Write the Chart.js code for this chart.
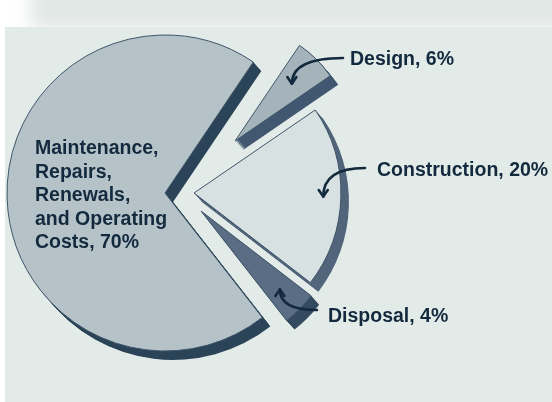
<!DOCTYPE html>
<html><head><meta charset="utf-8">
<script src="https://cdn.jsdelivr.net/npm/chart.js@4.4.1/dist/chart.umd.min.js"></script>
<style>
html,body{margin:0;padding:0;background:#fff;width:552px;height:402px;overflow:hidden;position:relative}
#strip{position:absolute;left:30px;top:-14px;width:570px;height:44px;background:#e2e8e6;filter:blur(9px)}
#panel{position:absolute;left:5px;top:27px;width:547px;height:375px;background:#e3ebe8}
canvas{display:block}
</style></head><body>
<div id="strip"></div>
<div id="panel"><canvas id="c" width="547" height="375"></canvas></div>
<script>
// ---- data ----
const CATEGORIES = ['Maintenance, Repairs, Renewals, and Operating Costs', 'Design', 'Construction', 'Disposal'];
const CATEGORY_LINES = [['Maintenance,', 'Repairs,', 'Renewals,', 'and Operating', 'Costs'], ['Design'], ['Construction'], ['Disposal']];
const VALUES = [70, 6, 20, 4];

// ---- style ----
const FACE = ['#b5c3c9', '#a5b3bb', '#d7e1e2', '#5b6d84'];
const DEPTH_COL = ['#2c4458', '#425771', '#52657b', '#344a5f'];
const SHIFT = [[0, 0], [70, -52], [29, 0], [36, 18]];      // explosion of each slice (px)
const SCALE = [1, 0.73, 0.93, 0.88];                        // radius factor per slice
const DEPTH = {x: 8, y: 9, steps: 12};
const TEXT_COL = '#13293d';
const FONT = 'bold 19.5px "Liberation Sans", Arial, sans-serif';
const LABEL_POS = [{x: 30, y: 127, lh: 23.5}, {x: 345, y: 38}, {x: 372, y: 149}, {x: 323, y: 295}];
const ARROW = [null, {sx: 338, sy: 31, f: 0.7, ky: 0}, {sx: 360, sy: 141, f: 0.88, ky: 0}, {sx: 312, sy: 283, f: 0.8, ky: 0}];

function apexOf(a, i) { return {x: a.x + SHIFT[i][0], y: a.y + SHIFT[i][1], r: a.outerRadius * SCALE[i]}; }

const pieFx = {
  id: 'pieFx',
  beforeDatasetDraw(chart, args) {
    const ctx = chart.ctx;
    const arcs = args.meta.data;
    arcs.forEach((a, i) => {
      const p = apexOf(a, i);
      ctx.save();
      ctx.fillStyle = DEPTH_COL[i];
      for (let k = DEPTH.steps; k >= 1; k--) {
        const t = k / DEPTH.steps;
        const cx = p.x + DEPTH.x * t, cy = p.y + DEPTH.y * t;
        ctx.beginPath();
        ctx.moveTo(cx, cy);
        ctx.arc(cx, cy, p.r, a.startAngle, a.endAngle);
        ctx.closePath();
        ctx.fill();
      }
      ctx.restore();
      ctx.save();
      ctx.translate(SHIFT[i][0], SHIFT[i][1]);
      const r0 = a.outerRadius;
      a.outerRadius = p.r;
      a.draw(ctx);
      a.outerRadius = r0;
      ctx.restore();
    });
    return false;
  },
  afterDatasetsDraw(chart) {
    const ctx = chart.ctx;
    const arcs = chart.getDatasetMeta(0).data;
    ctx.save();
    ctx.fillStyle = TEXT_COL;
    ctx.strokeStyle = TEXT_COL;
    ctx.font = FONT;
    ctx.textBaseline = 'alphabetic';
    ctx.textAlign = 'left';
    CATEGORY_LINES.forEach((lines, i) => {
      const lp = LABEL_POS[i];
      lines.forEach((ln, j) => {
        const txt = j === lines.length - 1 ? ln + ', ' + VALUES[i] + '%' : ln;
        ctx.fillText(txt, lp.x, lp.y + j * (lp.lh || 0));
      });
      const ar = ARROW[i];
      if (!ar) return;
      const a = arcs[i];
      const p = apexOf(a, i);
      const mid = (a.startAngle + a.endAngle) / 2;
      const tx = p.x + Math.cos(mid) * p.r * ar.f;
      const ty = p.y + Math.sin(mid) * p.r * ar.f;
      const kx = tx, ky = ar.sy + ar.ky;
      ctx.lineWidth = 2.6;
      ctx.lineCap = 'round';
      ctx.lineJoin = 'round';
      ctx.beginPath();
      ctx.moveTo(ar.sx, ar.sy);
      ctx.quadraticCurveTo(kx, ky, tx, ty);
      ctx.stroke();
      const ang = Math.atan2(ty - ky, tx - kx);
      const hl = 8;
      ctx.beginPath();
      ctx.moveTo(tx + Math.cos(ang + Math.PI - 0.6) * hl, ty + Math.sin(ang + Math.PI - 0.6) * hl);
      ctx.lineTo(tx, ty);
      ctx.lineTo(tx + Math.cos(ang + Math.PI + 0.6) * hl, ty + Math.sin(ang + Math.PI + 0.6) * hl);
      ctx.stroke();
    });
    ctx.restore();
  }
};

new Chart(document.getElementById('c'), {
  type: 'pie',
  data: {
    labels: CATEGORIES,
    datasets: [{
      data: VALUES,
      backgroundColor: FACE,
      borderColor: '#3e5568',
      borderWidth: 1,
      borderJoinStyle: 'miter',
      clip: false
    }]
  },
  options: {
    responsive: false,
    animation: false,
    devicePixelRatio: 1,
    rotation: 142,
    radius: 158,
    layout: {padding: {left: 0, top: 0, right: 227, bottom: 43}},
    plugins: {legend: {display: false}, tooltip: {enabled: false}}
  },
  plugins: [pieFx]
});
</script>
</body></html>
